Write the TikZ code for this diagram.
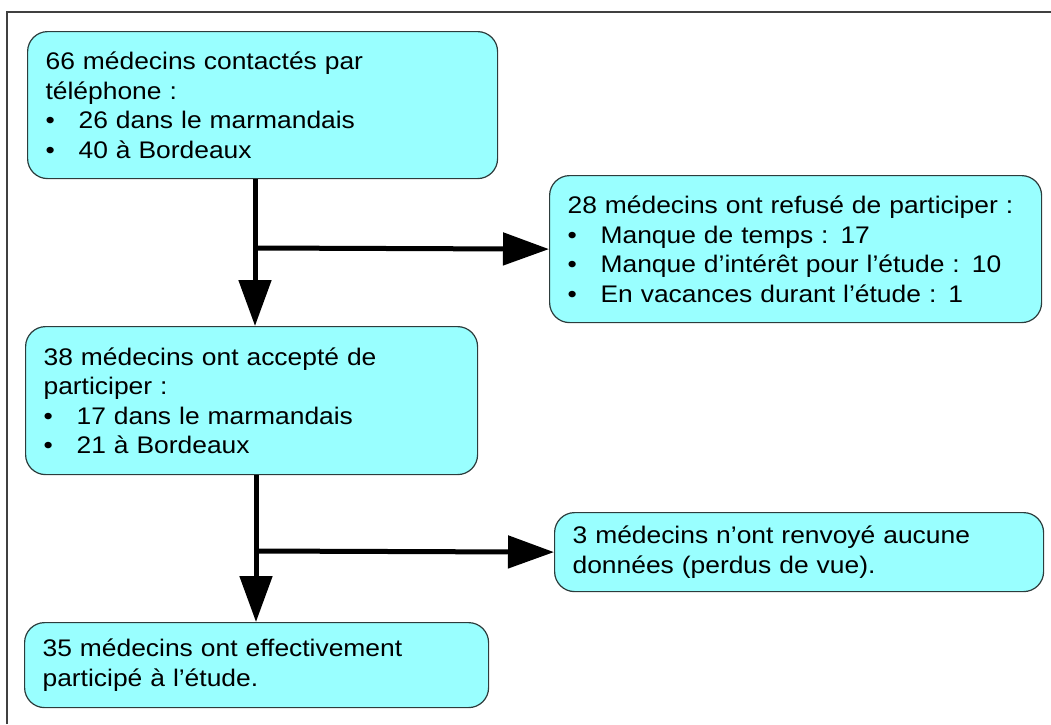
\documentclass[tikz,border=0pt]{standalone}
\usepackage{fontspec}
\setmainfont{Liberation Sans}[FakeStretch=1.1]
\usetikzlibrary{arrows.meta,calc}
\definecolor{boxcyan}{RGB}{153,255,255}
\definecolor{boxline}{RGB}{45,60,60}
\newcommand{\puce}{\makebox[33pt][l]{\textbullet}}

\begin{document}
\begin{tikzpicture}[x=1pt,y=-1pt,
  boite/.style={draw=boxline,line width=1.2pt,fill=boxcyan,rounded corners=20pt,
    anchor=north west,inner xsep=18pt,inner ysep=0pt,align=left,
    font=\fontsize{24}{29.5}\selectfont},
  fleche/.style={line width=5pt,-{Triangle[length=46pt,width=32pt]}}]

\useasboundingbox (0,0) rectangle (1051,724);
\draw[line width=1.5pt,black!75] (7,724)--(7,12)--(1051,12);

\node[boite,minimum width=470pt,minimum height=147pt,text width=434pt] (contact) at (27,31)
  {66 médecins contactés par\\téléphone :\\\puce 26 dans le marmandais\\\puce 40 à Bordeaux};
\node[boite,minimum width=492pt,minimum height=147pt,text width=456pt] (refus) at (549,175)
  {28 médecins ont refusé de participer :\\\puce Manque de temps : 17\\\puce Manque d’intérêt pour l’étude : 10\\\puce En vacances durant l’étude : 1};
\node[boite,minimum width=452pt,minimum height=148pt,text width=416pt] (accept) at (25,326)
  {38 médecins ont accepté de\\participer :\\\puce 17 dans le marmandais\\\puce 21 à Bordeaux};
\node[boite,minimum width=489pt,minimum height=79pt,text width=453pt] (perdus) at (554,512)
  {3 médecins n’ont renvoyé aucune\\données (perdus de vue).};
\node[boite,minimum width=464pt,minimum height=85pt,text width=428pt] (final) at (24,622)
  {35 médecins ont effectivement\\participé à l’étude.};

\coordinate (j1) at (255,248);
\coordinate (j2) at (256,551);
\draw[fleche] (contact.south -| j1) -- (accept.north -| j1);
\draw[fleche] (j1) -- (refus.west);
\draw[fleche] (accept.south -| j2) -- (final.north -| j2);
\draw[fleche] (j2) -- (perdus.west);

\end{tikzpicture}
\end{document}
